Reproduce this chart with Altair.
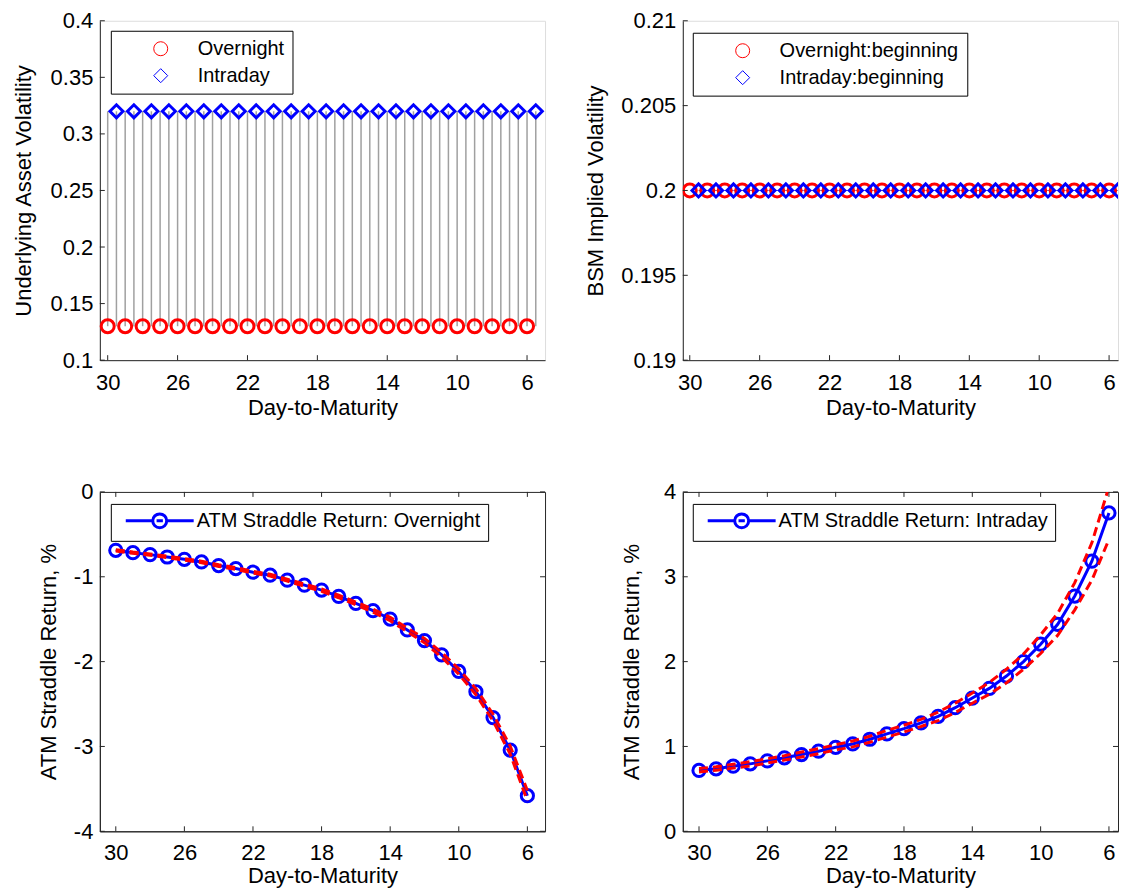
import altair as alt
import pandas as pd

FONT = "Liberation Sans"
AX = "#262626"
RED = "#ff0000"
BLUE = "#0000ff"

# ---------------- data ----------------
days = [30, 29, 28, 27, 26, 25, 24, 23, 22, 21, 20, 19, 18, 17, 16, 15, 14, 13, 12, 11, 10, 9, 8, 7, 6]
half_days = [29.5, 28.5, 27.5, 26.5, 25.5, 24.5, 23.5, 22.5, 21.5, 20.5, 19.5, 18.5, 17.5, 16.5,
             15.5, 14.5, 13.5, 12.5, 11.5, 10.5, 9.5, 8.5, 7.5, 6.5, 5.5]
x_ticks = [30, 26, 22, 18, 14, 10, 6]

# top-left: underlying asset volatility
overnight_vol = [0.13, 0.13, 0.13, 0.13, 0.13, 0.13, 0.13, 0.13, 0.13, 0.13, 0.13, 0.13, 0.13,
                 0.13, 0.13, 0.13, 0.13, 0.13, 0.13, 0.13, 0.13, 0.13, 0.13, 0.13, 0.13]
intraday_vol = [0.32, 0.32, 0.32, 0.32, 0.32, 0.32, 0.32, 0.32, 0.32, 0.32, 0.32, 0.32, 0.32,
                0.32, 0.32, 0.32, 0.32, 0.32, 0.32, 0.32, 0.32, 0.32, 0.32, 0.32, 0.32]
tl_yticks = [0.1, 0.15, 0.2, 0.25, 0.3, 0.35, 0.4]
tl_series = ["Overnight", "Intraday"]

# top-right: BSM implied volatility
overnight_iv = [0.2, 0.2, 0.2, 0.2, 0.2, 0.2, 0.2, 0.2, 0.2, 0.2, 0.2, 0.2, 0.2,
                0.2, 0.2, 0.2, 0.2, 0.2, 0.2, 0.2, 0.2, 0.2, 0.2, 0.2, 0.2]
intraday_iv = [0.2, 0.2, 0.2, 0.2, 0.2, 0.2, 0.2, 0.2, 0.2, 0.2, 0.2, 0.2, 0.2,
               0.2, 0.2, 0.2, 0.2, 0.2, 0.2, 0.2, 0.2, 0.2, 0.2, 0.2, 0.2]
tr_yticks = [0.19, 0.195, 0.2, 0.205, 0.21]
tr_series = ["Overnight:beginning", "Intraday:beginning"]

# bottom-left: ATM straddle return, overnight
ret_overnight = [-0.688, -0.716, -0.739, -0.767, -0.794, -0.825, -0.868, -0.903, -0.946, -0.981,
                 -1.04, -1.099, -1.157, -1.232, -1.314, -1.40, -1.498, -1.627, -1.752, -1.92,
                 -2.116, -2.355, -2.66, -3.043, -3.58]
ret_overnight_hi = [-0.68, -0.708, -0.731, -0.758, -0.785, -0.816, -0.858, -0.893, -0.935, -0.97,
                    -1.028, -1.086, -1.143, -1.217, -1.298, -1.382, -1.478, -1.605, -1.727, -1.892,
                    -2.085, -2.32, -2.62, -2.995, -3.52]
ret_overnight_lo = [-0.696, -0.724, -0.747, -0.776, -0.803, -0.834, -0.878, -0.913, -0.957, -0.992,
                    -1.052, -1.112, -1.171, -1.247, -1.33, -1.418, -1.518, -1.649, -1.777, -1.948,
                    -2.147, -2.39, -2.70, -3.09, -3.64]
bl_yticks = [-4, -3, -2, -1, 0]
bl_name = "ATM Straddle Return: Overnight"

# bottom-right: ATM straddle return, intraday
ret_intraday = [0.717, 0.737, 0.767, 0.795, 0.830, 0.866, 0.905, 0.944, 0.99, 1.03,
                1.085, 1.148, 1.21, 1.277, 1.355, 1.457, 1.571, 1.684, 1.83, 2.0,
                2.205, 2.44, 2.773, 3.184, 3.752]
ret_intraday_hi = [0.74, 0.76, 0.79, 0.82, 0.855, 0.89, 0.935, 0.975, 1.02, 1.065,
                   1.12, 1.19, 1.25, 1.32, 1.405, 1.51, 1.63, 1.755, 1.91, 2.09,
                   2.315, 2.57, 2.93, 3.40, 4.06]
ret_intraday_lo = [0.70, 0.72, 0.745, 0.77, 0.805, 0.84, 0.875, 0.915, 0.96, 0.995,
                   1.05, 1.11, 1.17, 1.235, 1.305, 1.40, 1.51, 1.615, 1.75, 1.91,
                   2.095, 2.31, 2.61, 2.96, 3.44]
br_yticks = [0, 1, 2, 3, 4]
br_name = "ATM Straddle Return: Intraday"

# ---------------- helpers ----------------
W1, W2, H = 446, 436, 340
TL = 5  # inward tick length
FS = 22
LINE_CIRCLE = "M-4.86,0L-1,0M1,0L4.86,0M1,0A1,1,0,1,1,-1,0A1,1,0,1,1,1,0M-0.45,0L0.45,0"


def x_axis(lpad, tpad):
    return alt.Axis(values=x_ticks, labelExpr="'' + datum.value", ticks=False, grid=False,
                    domainColor=AX, domainWidth=1, labelFont=FONT, labelFontSize=FS,
                    labelColor="black", labelPadding=lpad, labelFlush=False, labelOverlap=False,
                    title="Day-to-Maturity", titleFont=FONT, titleFontSize=FS,
                    titleFontWeight="normal", titleColor="black", titlePadding=tpad)


def y_axis(vals, title, extent, tpad):
    return alt.Axis(values=vals, labelExpr="'' + datum.value", ticks=False, grid=False,
                    domainColor=AX, domainWidth=1, labelFont=FONT, labelFontSize=FS,
                    labelColor="black", labelPadding=7, labelFlush=False, labelOverlap=False,
                    minExtent=extent, maxExtent=extent,
                    title=title, titleFont=FONT, titleFontSize=FS, titleFontWeight="normal",
                    titleColor="black", titlePadding=tpad)


def tick_layers(xs, ys, xa, ya, yvals, width, box):
    xt = pd.DataFrame({"t": x_ticks})
    yt = pd.DataFrame({"t": yvals})
    layers = [
        alt.Chart(xt).mark_rule(color=AX, strokeWidth=1).encode(
            x=alt.X("t:Q", scale=xs, axis=xa), y=alt.value(H), y2=alt.value(H - TL)),
        alt.Chart(yt).mark_rule(color=AX, strokeWidth=1).encode(
            y=alt.Y("t:Q", scale=ys, axis=ya), x=alt.value(0), x2=alt.value(TL)),
    ]
    if box:
        layers += [
            alt.Chart(xt).mark_rule(color=AX, strokeWidth=1).encode(
                x=alt.X("t:Q", scale=xs, axis=xa), y=alt.value(0), y2=alt.value(TL)),
            alt.Chart(yt).mark_rule(color=AX, strokeWidth=1).encode(
                y=alt.Y("t:Q", scale=ys, axis=ya), x=alt.value(width), x2=alt.value(width - TL)),
        ]
    return layers


def top_legend(lx, ly):
    return alt.Legend(title=None, orient="none", legendX=lx, legendY=ly, direction="vertical",
                      fillColor="white", strokeColor="black", padding=8, cornerRadius=0,
                      labelFont=FONT, labelFontSize=20, labelColor="black", labelLimit=600,
                      symbolSize=196, symbolStrokeWidth=1, symbolOffset=32, labelOffset=27,
                      rowPadding=7)


def bottom_legend(lx, ly):
    return alt.Legend(title=None, orient="none", legendX=lx, legendY=ly,
                      fillColor="white", strokeColor="black", padding=7, cornerRadius=0,
                      labelFont=FONT, labelFontSize=20, labelColor="black", labelLimit=600,
                      symbolType=LINE_CIRCLE, symbolSize=196, symbolStrokeWidth=3,
                      symbolStrokeColor=BLUE, symbolFillColor="transparent",
                      symbolOffset=32, labelOffset=27)


# ---------------- top-left ----------------
xs_tl = alt.Scale(domain=[30.45, 4.97], nice=False, zero=False)
ys_tl = alt.Scale(domain=[0.1, 0.4], nice=False, zero=False)
xa_tl = x_axis(12, 4)
ya_tl = y_axis(tl_yticks, "Underlying Asset Volatility", 50, 14)

stem_df = pd.DataFrame({"x": days + half_days,
                        "lo": overnight_vol + overnight_vol,
                        "hi": intraday_vol + intraday_vol})
tl_pts = pd.DataFrame({"x": days + half_days, "y": overnight_vol + intraday_vol,
                       "series": [tl_series[0]] * len(days) + [tl_series[1]] * len(half_days)})

stems = alt.Chart(stem_df).mark_rule(color="#a0a0a0", strokeWidth=1.5).encode(
    x=alt.X("x:Q", scale=xs_tl, axis=xa_tl),
    y=alt.Y("lo:Q", scale=ys_tl, axis=ya_tl),
    y2="hi:Q")
leg = top_legend(11, 10)
tl_marks = alt.Chart(tl_pts).mark_point(filled=False, strokeWidth=3, size=170, opacity=1).encode(
    x=alt.X("x:Q", scale=xs_tl, axis=xa_tl),
    y=alt.Y("y:Q", scale=ys_tl, axis=ya_tl),
    color=alt.Color("series:N", scale=alt.Scale(domain=tl_series, range=[RED, BLUE]), legend=leg),
    shape=alt.Shape("series:N", scale=alt.Scale(domain=tl_series, range=["circle", "diamond"]), legend=leg))
tl = alt.layer(stems, tl_marks, *tick_layers(xs_tl, ys_tl, xa_tl, ya_tl, tl_yticks, W1, False)).properties(
    width=W1, height=H)

# ---------------- top-right ----------------
xs_tr = alt.Scale(domain=[30.4, 5.49], nice=False, zero=False)
ys_tr = alt.Scale(domain=[0.19, 0.21], nice=False, zero=False)
xa_tr = x_axis(12, 4)
ya_tr = y_axis(tr_yticks, "BSM Implied Volatility", 62, 13)
tr_pts = pd.DataFrame({"x": days + half_days, "y": overnight_iv + intraday_iv,
                       "series": [tr_series[0]] * len(days) + [tr_series[1]] * len(half_days)})
tr_line_df = pd.DataFrame({"x": half_days, "y": intraday_iv})
tr_line = alt.Chart(tr_line_df).mark_line(color="#5a5ad0", strokeWidth=1, clip=True).encode(
    x=alt.X("x:Q", scale=xs_tr, axis=xa_tr),
    y=alt.Y("y:Q", scale=ys_tr, axis=ya_tr))
leg = top_legend(10, 12)
tr_marks = alt.Chart(tr_pts).mark_point(filled=False, strokeWidth=3, size=170, opacity=1,
                                        clip=True).encode(
    x=alt.X("x:Q", scale=xs_tr, axis=xa_tr),
    y=alt.Y("y:Q", scale=ys_tr, axis=ya_tr),
    color=alt.Color("series:N", scale=alt.Scale(domain=tr_series, range=[RED, BLUE]), legend=leg),
    shape=alt.Shape("series:N", scale=alt.Scale(domain=tr_series, range=["circle", "diamond"]), legend=leg))
tr = alt.layer(tr_line, tr_marks, *tick_layers(xs_tr, ys_tr, xa_tr, ya_tr, tr_yticks, W2, False)).properties(
    width=W2, height=H)


# ---------------- bottom charts ----------------
def return_panel(xs, ys, yvals, mid, hi, lo, name, ytitle, width, lx, ly):
    xa = x_axis(11, 2)
    ya = y_axis(yvals, ytitle, 27, 12)
    mid_df = pd.DataFrame({"x": days, "y": mid, "series": [name] * len(days)})
    band_df = pd.DataFrame({"x": days + days, "y": hi + lo,
                            "band": ["hi"] * len(days) + ["lo"] * len(days)})
    line = alt.Chart(mid_df).mark_line(strokeWidth=3, clip=True).encode(
        x=alt.X("x:Q", scale=xs, axis=xa),
        y=alt.Y("y:Q", scale=ys, axis=ya),
        color=alt.Color("series:N", scale=alt.Scale(domain=[name], range=[BLUE]),
                        legend=bottom_legend(lx, ly)))
    pts = alt.Chart(mid_df).mark_point(filled=False, strokeWidth=3, size=150, color=BLUE,
                                       opacity=1, clip=True).encode(
        x=alt.X("x:Q", scale=xs, axis=xa), y=alt.Y("y:Q", scale=ys, axis=ya))
    bands = alt.Chart(band_df).mark_line(color=RED, strokeWidth=3, strokeDash=[9, 5],
                                         clip=True).encode(
        x=alt.X("x:Q", scale=xs, axis=xa), y=alt.Y("y:Q", scale=ys, axis=ya),
        detail="band:N")
    return alt.layer(line, pts, bands, *tick_layers(xs, ys, xa, ya, yvals, width, True)).properties(
        width=width, height=H, view=alt.ViewBackground(stroke=AX, strokeWidth=1))


xs_bl = alt.Scale(domain=[30.93, 4.97], nice=False, zero=False)
ys_bl = alt.Scale(domain=[-4, 0], nice=False, zero=False)
bl = return_panel(xs_bl, ys_bl, bl_yticks, ret_overnight, ret_overnight_hi, ret_overnight_lo,
                  bl_name, "ATM Straddle Return, %", W1, 11, 12)

xs_br = alt.Scale(domain=[30.95, 5.47], nice=False, zero=False)
ys_br = alt.Scale(domain=[0, 4], nice=False, zero=False)
br = return_panel(xs_br, ys_br, br_yticks, ret_intraday, ret_intraday_hi, ret_intraday_lo,
                  br_name, "ATM Straddle Return, %", W2, 10, 12)

chart = alt.concat(tl, tr, bl, br, columns=2, spacing={"row": 61, "column": 35}).resolve_scale(
    color="independent", shape="independent", x="independent", y="independent"
).resolve_legend(color="independent", shape="independent").properties(
    padding={"left": 4, "top": 0, "right": 0, "bottom": 0}
).configure_view(strokeWidth=0).configure(background="white")

chart.save("out.html", embed_options={"renderer": "svg", "actions": False})
